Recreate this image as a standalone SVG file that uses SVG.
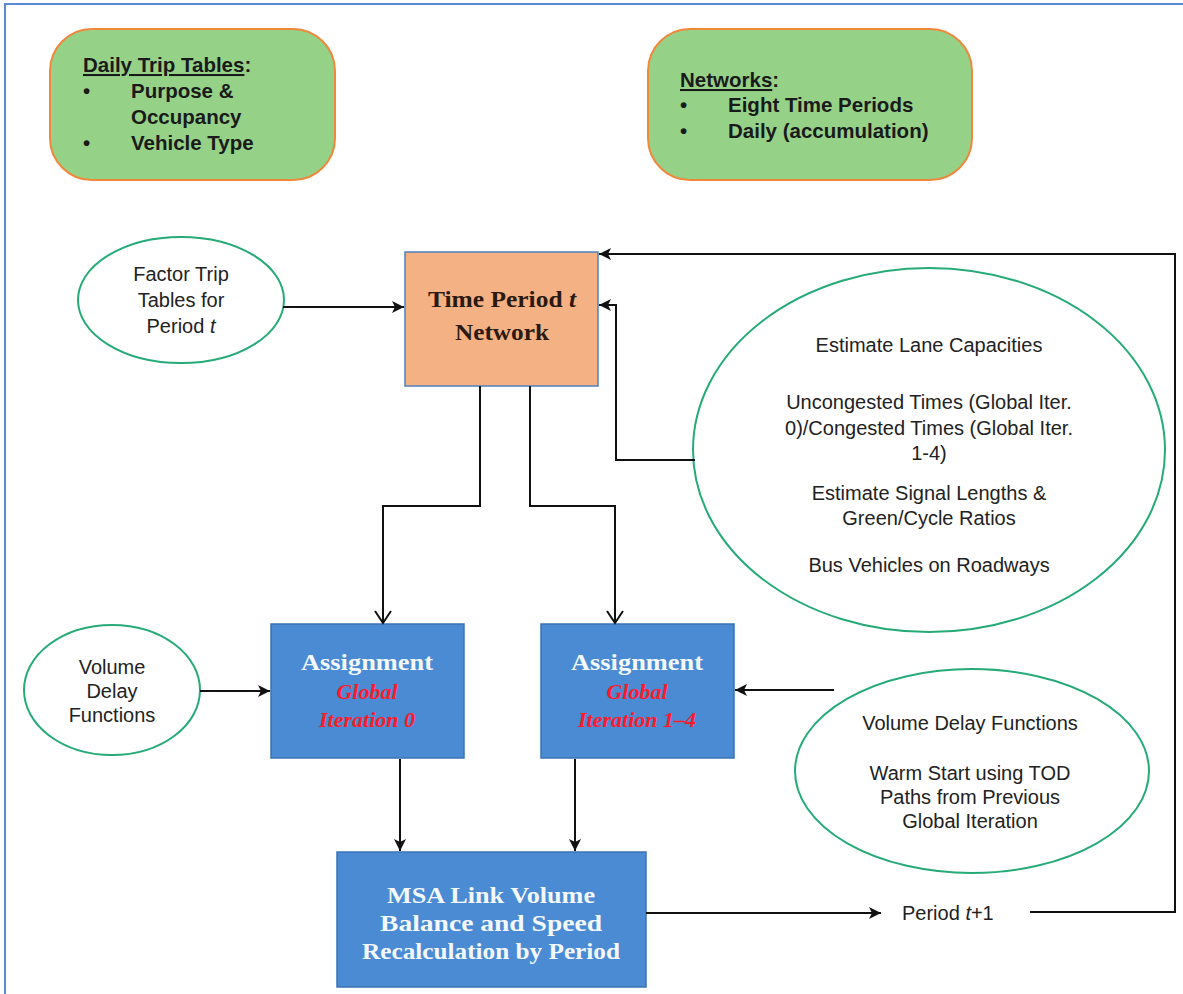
<svg xmlns="http://www.w3.org/2000/svg" width="1183" height="994" viewBox="0 0 1183 994">
<style>
.gbox{fill:#96d188;stroke:#f0883c;stroke-width:2}
.gt{font-family:"Liberation Sans",Arial,sans-serif;font-weight:bold;font-size:20.5px;fill:#1a1a1a}
.ell{fill:#fff;stroke:#26ab78;stroke-width:2}
.et{font-family:"Liberation Sans",Arial,sans-serif;font-size:20px;fill:#222;text-anchor:middle}
.bbox{fill:#4b8bd3;stroke:#3b73b5;stroke-width:1.5}
.st{font-family:"Liberation Serif","Times New Roman",serif;font-weight:bold;font-size:24px;text-anchor:middle}
.wt{fill:#f4f8ff}
.rt{fill:#ff1a2a;font-style:italic;font-size:22px}
.con{fill:none;stroke:#111;stroke-width:2}
</style>
<defs>
<marker id="fa" markerUnits="userSpaceOnUse" markerWidth="14" markerHeight="12" refX="12" refY="6" orient="auto">
<path d="M0,0 L12,6 L0,12 L3,6 z" fill="#111"/>
</marker>
<marker id="oa" markerUnits="userSpaceOnUse" markerWidth="20" markerHeight="22" refX="14" refY="10" orient="auto">
<path d="M2,2 L14,10 L2,18" fill="none" stroke="#111" stroke-width="2"/>
</marker>
</defs>
<rect x="5" y="4" width="1195" height="1010" fill="#fff" stroke="#5b8bd0" stroke-width="2"/>

<g id="daily-trip-tables">
<rect class="gbox" x="50" y="29" width="285" height="151" rx="42"/>
<text class="gt" x="83" y="72"><tspan text-decoration="underline">Daily Trip Tables</tspan>:</text>
<text class="gt" x="83" y="98">•</text>
<text class="gt" x="131" y="98">Purpose &amp;</text>
<text class="gt" x="131" y="124">Occupancy</text>
<text class="gt" x="83" y="150">•</text>
<text class="gt" x="131" y="150">Vehicle Type</text>
</g>

<g id="networks">
<rect class="gbox" x="648" y="29" width="324" height="151" rx="42"/>
<text class="gt" x="680" y="87"><tspan text-decoration="underline">Networks</tspan>:</text>
<text class="gt" x="680" y="112">•</text>
<text class="gt" x="728" y="112">Eight Time Periods</text>
<text class="gt" x="680" y="138">•</text>
<text class="gt" x="728" y="138">Daily (accumulation)</text>
</g>

<g id="factor-trip-tables">
<ellipse class="ell" cx="181" cy="300" rx="103" ry="63"/>
<text class="et" x="181" y="281">Factor Trip</text>
<text class="et" x="181" y="307">Tables for</text>
<text class="et" x="181" y="333">Period <tspan font-style="italic">t</tspan></text>
</g>

<g id="time-period-network">
<rect x="405" y="252" width="193" height="134" fill="#f4b183" stroke="#4f81bd" stroke-width="1.5"/>
<text class="st" x="502" y="307" fill="#2a1a10" textLength="148" lengthAdjust="spacingAndGlyphs">Time Period <tspan font-style="italic">t</tspan></text>
<text class="st" x="502" y="340" fill="#2a1a10" textLength="94" lengthAdjust="spacingAndGlyphs">Network</text>
</g>

<g id="network-inputs">
<ellipse class="ell" cx="929" cy="450" rx="236" ry="182"/>
<text class="et" x="929" y="352">Estimate Lane Capacities</text>
<text class="et" x="929" y="409">Uncongested Times (Global Iter.</text>
<text class="et" x="929" y="435">0)/Congested Times (Global Iter.</text>
<text class="et" x="929" y="460">1-4)</text>
<text class="et" x="929" y="500">Estimate Signal Lengths &amp;</text>
<text class="et" x="929" y="525">Green/Cycle Ratios</text>
<text class="et" x="929" y="572">Bus Vehicles on Roadways</text>
</g>

<g id="vdf-left">
<ellipse class="ell" cx="112" cy="690" rx="88" ry="65"/>
<text class="et" x="112" y="674">Volume</text>
<text class="et" x="112" y="698">Delay</text>
<text class="et" x="112" y="722">Functions</text>
</g>

<g id="assignment-0">
<rect class="bbox" x="271" y="624" width="193" height="134"/>
<text class="st wt" x="367" y="670" textLength="132" lengthAdjust="spacingAndGlyphs">Assignment</text>
<text class="st rt" x="367" y="699">Global</text>
<text class="st rt" x="367" y="727">Iteration 0</text>
</g>

<g id="assignment-1-4">
<rect class="bbox" x="541" y="624" width="193" height="134"/>
<text class="st wt" x="637" y="670" textLength="132" lengthAdjust="spacingAndGlyphs">Assignment</text>
<text class="st rt" x="637" y="699">Global</text>
<text class="st rt" x="637" y="727">Iteration 1–4</text>
</g>

<g id="vdf-right">
<ellipse class="ell" cx="972" cy="771" rx="177" ry="102"/>
<text class="et" x="970" y="730">Volume Delay Functions</text>
<text class="et" x="970" y="780">Warm Start using TOD</text>
<text class="et" x="970" y="804">Paths from Previous</text>
<text class="et" x="970" y="828">Global Iteration</text>
</g>

<g id="msa">
<rect class="bbox" x="337" y="852" width="309" height="135"/>
<text class="st wt" x="491" y="903" textLength="208" lengthAdjust="spacingAndGlyphs">MSA Link Volume</text>
<text class="st wt" x="491" y="931" textLength="222" lengthAdjust="spacingAndGlyphs">Balance and Speed</text>
<text class="st wt" x="491" y="959" textLength="258" lengthAdjust="spacingAndGlyphs">Recalculation by Period</text>
</g>

<g id="period-next">
<text x="902" y="920" font-family="Liberation Sans,Arial,sans-serif" font-size="20" fill="#222">Period <tspan font-style="italic">t</tspan>+1</text>
</g>

<g id="connectors">
<path class="con" d="M283,307 H404" marker-end="url(#fa)"/>
<path class="con" d="M695,460 H616 V305 H599" marker-end="url(#fa)"/>
<path class="con" d="M1030,912 H1175 V254 H599" marker-end="url(#fa)"/>
<path class="con" d="M480,386 V506 H383 V623" marker-end="url(#oa)"/>
<path class="con" d="M530,386 V506 H615 V623" marker-end="url(#oa)"/>
<path class="con" d="M200,691 H270" marker-end="url(#fa)"/>
<path class="con" d="M834,690 H735" marker-end="url(#fa)"/>
<path class="con" d="M400,759 V851" marker-end="url(#fa)"/>
<path class="con" d="M575,759 V851" marker-end="url(#fa)"/>
<path class="con" d="M646,913 H881" marker-end="url(#fa)"/>
</g>
</svg>
